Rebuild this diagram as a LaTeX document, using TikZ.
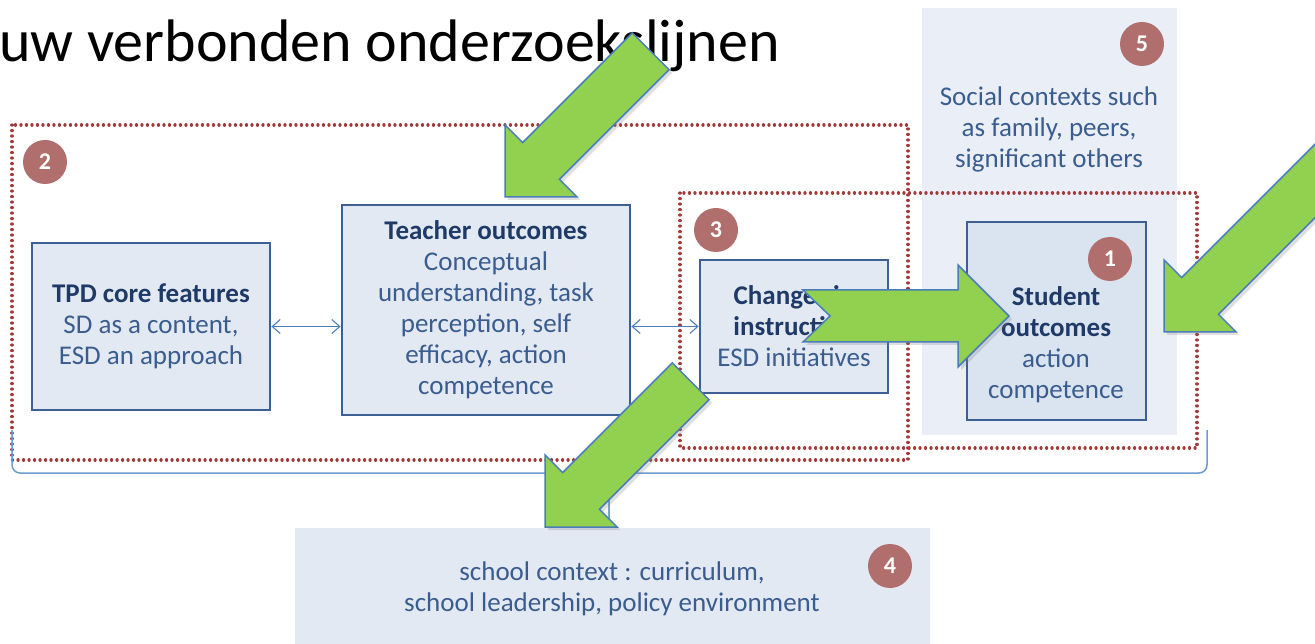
\documentclass[tikz,border=0pt]{standalone}
\usepackage{fontspec}
\setmainfont{Carlito}
\usetikzlibrary{arrows.meta,shadows}
\definecolor{boxfill}{HTML}{E2E9F3}
\definecolor{stufill}{HTML}{DAE3F0}
\definecolor{bgfill}{HTML}{EAEFF7}
\definecolor{boxline}{HTML}{3D6094}
\definecolor{headtext}{HTML}{1F3A66}
\definecolor{bodytext}{HTML}{3A5C8E}
\definecolor{numfill}{HTML}{B06F6D}
\definecolor{dotred}{HTML}{A33A3A}
\definecolor{arrgreen}{HTML}{92D050}
\definecolor{arrline}{HTML}{4A7EBB}
\definecolor{braceline}{HTML}{6C9BD2}
\tikzset{
  box/.style={draw=boxline, line width=2.8pt, fill=boxfill},
  boxtext/.style={align=center, text=bodytext, inner sep=0pt,
    font=\fontsize{27}{31}\selectfont},
  num/.style={circle, fill=numfill, text=white, minimum size=44pt, inner sep=0pt,
    font=\fontsize{24}{24}\selectfont\bfseries},
  region/.style={draw=dotred, line width=3.2pt, line cap=round,
    dash pattern=on 0.1pt off 5.4pt},
  dblarrow/.style={draw=arrline, line width=1.1pt,
    {Straight Barb[length=8pt,width=14pt]}-{Straight Barb[length=8pt,width=14pt]}},
  greenarr/.style={fill=arrgreen, draw=arrline, line width=1.5pt, line join=miter,
    drop shadow={opacity=0.25, shadow xshift=3pt, shadow yshift=-3pt}}
}
\newcommand{\greenarrow}[4]{%
  \draw[greenarr, shift={#1}, rotate=#2] (0,0) -- (-51,51) -- (-51,26) -- (-#3,26)
    -- (-#3+#4,0) -- (-#3,-26) -- (-51,-26) -- (-51,-51) -- cycle;}
\begin{document}
\begin{tikzpicture}[x=1pt,y=-1pt]
  \clip (0,0) rectangle (1315,644);
  \fill[white] (0,0) rectangle (1315,644);
  \node[anchor=base west, inner sep=0pt, font=\fontsize{60}{62}\selectfont] (title)
    at (-1,62) {uw verbonden onderzoekslijnen};

  \node[fill=bgfill, minimum width=255pt, minimum height=427pt] (social) at (1049.5,221.5) {};
  \node[boxtext] (socialtext) at (1049,129)
    {Social contexts such\\as family, peers,\\significant others};

  \draw[region] (12,125) rectangle (908,460);
  \draw[region] (680,193) rectangle (1197,448);

  \node[box, minimum width=238pt, minimum height=167pt, boxtext] (tpd) at (151,326.5)
    {\textcolor{headtext}{\bfseries TPD core features}\\SD as a content,\\ESD an approach};
  \node[box, minimum width=288pt, minimum height=210pt, boxtext] (teacher) at (486,310)
    {\textcolor{headtext}{\bfseries Teacher outcomes}\\Conceptual\\understanding, task\\perception, self\\efficacy, action\\competence};
  \node[box, minimum width=188pt, minimum height=133pt, boxtext] (change) at (794,326.5)
    {\textcolor{headtext}{\bfseries Changes in}\\\textcolor{headtext}{\bfseries instruction}\\ESD initiatives};
  \node[box, fill=stufill, minimum width=179pt, minimum height=198pt] (student) at (1056.5,321) {};
  \node[boxtext] (studenttext) at (1056,345)
    {\textcolor{headtext}{\bfseries Student}\\\textcolor{headtext}{\bfseries outcomes}\\action\\competence};

  \draw[dblarrow] (tpd.east) -- (tpd.east -| teacher.west);
  \draw[dblarrow] (teacher.east |- change.west) -- (change.west);

  \begin{scope}[draw=braceline, line width=1.5pt, rounded corners=8pt]
    \draw (12,430) |- (609,473) -- (609,520);
    \draw (1207,430) |- (609,473) -- (609,520);
  \end{scope}

  \node[fill=boxfill, minimum width=635pt, minimum height=124pt] (school) at (612.5,590) {};
  \node[boxtext] (schooltext) at (612,589)
    {school context : curriculum,\\school leadership, policy environment};

  \node[num] (n1) at (1110,259) {1};
  \node[num] (n2) at (45,162) {2};
  \node[num] (n3) at (716,230) {3};
  \node[num] (n4) at (890,566) {4};
  \node[num] (n5) at (1142,44) {5};

  \greenarrow{(505,197)}{225}{206}{0}
  \greenarrow{(1009,316)}{0}{206}{27}
  \greenarrow{(1164,332)}{225}{270}{0}
  \greenarrow{(545,527)}{225}{206}{0}
\end{tikzpicture}
\end{document}
